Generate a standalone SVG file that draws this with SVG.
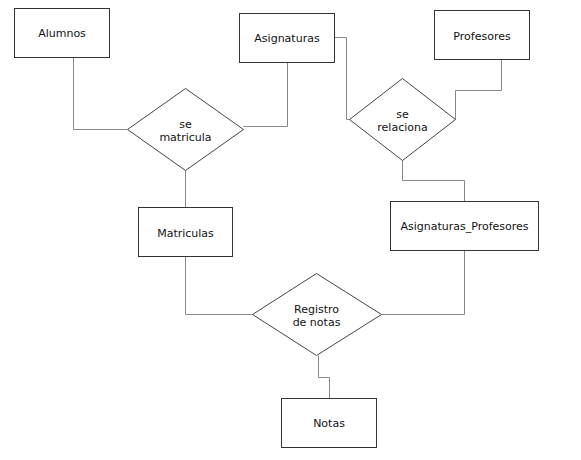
<svg xmlns="http://www.w3.org/2000/svg" width="581" height="460" viewBox="0 0 581 460">
<style>
.e{fill:#fff;stroke:#333;stroke-width:1}
.r{fill:#fff;stroke:#444;stroke-width:1}
.c{fill:none;stroke:#888;stroke-width:1}
text{font-family:"DejaVu Sans",Verdana,sans-serif;font-size:11px;fill:#111;text-anchor:middle}
</style>
<rect width="581" height="460" fill="#fff"/>
<g id="connectors">
<polyline class="c" points="73.5,57.5 73.5,129.5 127.5,129.5"/>
<polyline class="c" points="287.5,62.5 287.5,126.5 243.5,126.5"/>
<polyline class="c" points="185.5,170.5 185.5,207.5"/>
<polyline class="c" points="334.5,37.5 346.5,37.5 346.5,119.5 349.5,119.5"/>
<polyline class="c" points="501.5,59.5 501.5,90.5 455.5,90.5 455.5,119.5"/>
<polyline class="c" points="402.5,160.5 402.5,180.5 464.5,180.5 464.5,201.5"/>
<polyline class="c" points="185.5,256.5 185.5,314.5 252.5,314.5"/>
<polyline class="c" points="464.5,250.5 464.5,314.5 381.5,314.5"/>
<polyline class="c" points="318.5,355.5 318.5,377.5 329.5,377.5 329.5,398.5"/>
</g>
<g id="alumnos"><rect class="e" x="14.5" y="8.5" width="95" height="49"/><text x="62" y="37">Alumnos</text></g>
<g id="asignaturas"><rect class="e" x="239.5" y="13.5" width="95" height="49"/><text x="287" y="42">Asignaturas</text></g>
<g id="profesores"><rect class="e" x="434.5" y="10.5" width="95" height="49"/><text x="482" y="39.5">Profesores</text></g>
<g id="se-matricula"><polygon class="r" points="185.5,88.5 243.5,129.5 185.5,170.5 127.5,129.5"/><text x="185.5" y="127.5">se</text><text x="185.5" y="141">matricula</text></g>
<g id="se-relaciona"><polygon class="r" points="402.5,78.5 455.5,119.5 402.5,160.5 349.5,119.5"/><text x="402.5" y="117.5">se</text><text x="402.5" y="130.5">relaciona</text></g>
<g id="matriculas"><rect class="e" x="138.5" y="207.5" width="94" height="49"/><text x="185.5" y="236.5">Matriculas</text></g>
<g id="asignaturas-profesores"><rect class="e" x="390.5" y="201.5" width="148" height="49"/><text x="464.5" y="230">Asignaturas_Profesores</text></g>
<g id="registro-de-notas"><polygon class="r" points="316.5,273.5 381.5,314.5 316.5,355.5 252.5,314.5"/><text x="316.5" y="312.5">Registro</text><text x="316.5" y="326">de notas</text></g>
<g id="notas"><rect class="e" x="281.5" y="398.5" width="95" height="49"/><text x="329" y="426.5">Notas</text></g>
</svg>
